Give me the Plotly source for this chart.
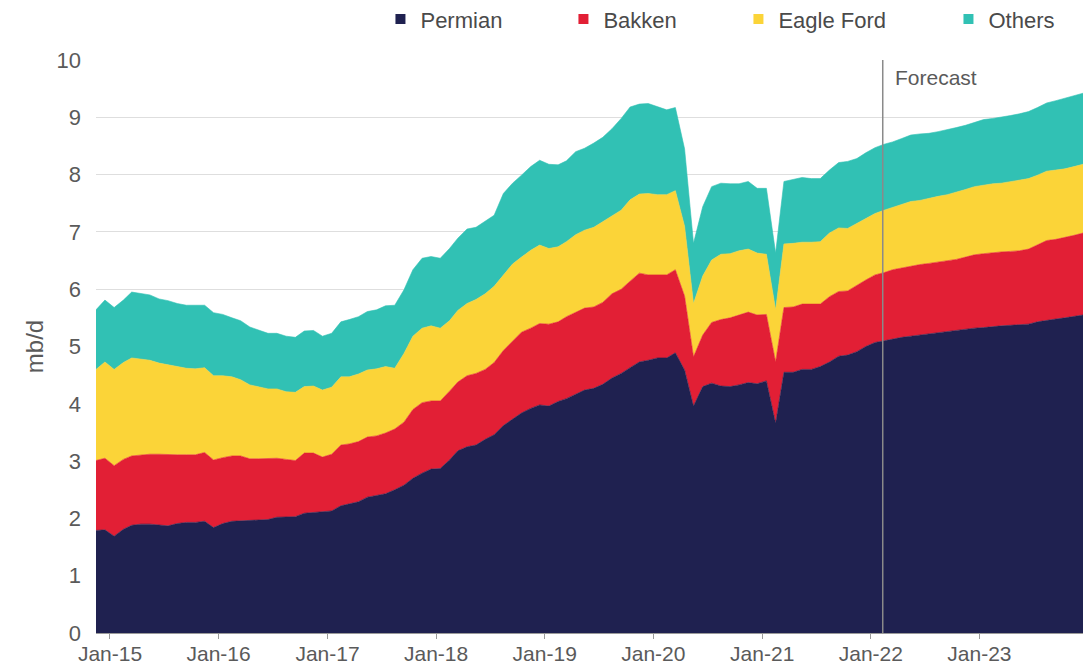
import pandas as pd
import plotly.graph_objects as go

# ---------------- data (mb/d), monthly Nov-2014 .. Dec-2023 ----------------
START_MONTH = "2014-11-01"
N_MONTHS = 110
FORECAST_START = "2022-02-10"

permian = [
    1.79, 1.80, 1.69, 1.81, 1.88, 1.90, 1.90, 1.88, 1.87, 1.91, 1.93, 1.93,
    1.95, 1.84, 1.91, 1.95, 1.96, 1.97, 1.97, 1.98, 2.02, 2.03, 2.03, 2.09,
    2.10, 2.11, 2.13, 2.22, 2.25, 2.29, 2.37, 2.40, 2.43, 2.50, 2.58, 2.70,
    2.79, 2.86, 2.87, 3.02, 3.18, 3.25, 3.28, 3.38, 3.46, 3.62, 3.73, 3.84,
    3.92, 3.98, 3.96, 4.04, 4.09, 4.17, 4.24, 4.27, 4.34, 4.45, 4.53, 4.63,
    4.73, 4.76, 4.80, 4.80, 4.89, 4.59, 3.96, 4.30, 4.36, 4.31, 4.30, 4.33,
    4.37, 4.35, 4.40, 3.66, 4.55, 4.55, 4.60, 4.60, 4.65, 4.73, 4.83, 4.85,
    4.91, 5.00, 5.07, 5.10, 5.13, 5.16, 5.18, 5.20, 5.23, 5.25, 5.27, 5.28,
    5.30, 5.32, 5.33, 5.35, 5.36, 5.37, 5.38, 5.39, 5.43, 5.46, 5.48, 5.50,
    5.53, 5.55,
]
bakken = [
    1.22, 1.25, 1.23, 1.22, 1.21, 1.21, 1.22, 1.24, 1.24, 1.20, 1.18, 1.18,
    1.20, 1.18, 1.15, 1.14, 1.13, 1.07, 1.07, 1.06, 1.03, 1.00, 0.98, 1.05,
    1.04, 0.96, 0.99, 1.06, 1.05, 1.05, 1.05, 1.04, 1.06, 1.06, 1.10, 1.20,
    1.23, 1.19, 1.18, 1.20, 1.20, 1.24, 1.25, 1.22, 1.26, 1.31, 1.37, 1.41,
    1.40, 1.42, 1.43, 1.39, 1.43, 1.43, 1.43, 1.42, 1.43, 1.47, 1.47, 1.51,
    1.55, 1.49, 1.45, 1.45, 1.45, 1.29, 0.86, 0.90, 1.06, 1.16, 1.20, 1.22,
    1.23, 1.20, 1.16, 1.07, 1.13, 1.14, 1.14, 1.14, 1.09, 1.14, 1.13, 1.12,
    1.16, 1.16, 1.18, 1.19, 1.21, 1.21, 1.23, 1.23, 1.22, 1.22, 1.23, 1.24,
    1.26, 1.28, 1.29, 1.29, 1.29, 1.29, 1.29, 1.31, 1.35, 1.39, 1.39, 1.40,
    1.41, 1.43,
]
eagle_ford = [
    1.59, 1.68, 1.68, 1.69, 1.71, 1.67, 1.64, 1.59, 1.57, 1.54, 1.51, 1.50,
    1.48, 1.47, 1.43, 1.38, 1.33, 1.29, 1.25, 1.22, 1.21, 1.18, 1.19, 1.16,
    1.17, 1.17, 1.17, 1.19, 1.17, 1.18, 1.17, 1.17, 1.16, 1.06, 1.20, 1.28,
    1.30, 1.31, 1.27, 1.23, 1.25, 1.26, 1.29, 1.32, 1.33, 1.32, 1.34, 1.31,
    1.36, 1.37, 1.32, 1.31, 1.31, 1.35, 1.36, 1.39, 1.41, 1.37, 1.38, 1.42,
    1.38, 1.42, 1.40, 1.40, 1.38, 1.22, 0.93, 1.03, 1.09, 1.14, 1.12, 1.12,
    1.10, 1.08, 1.05, 0.91, 1.11, 1.11, 1.08, 1.08, 1.09, 1.11, 1.11, 1.09,
    1.08, 1.08, 1.07, 1.09, 1.09, 1.11, 1.12, 1.12, 1.14, 1.15, 1.15, 1.17,
    1.18, 1.19, 1.20, 1.20, 1.20, 1.22, 1.23, 1.23, 1.21, 1.21, 1.21, 1.20,
    1.20, 1.20,
]
others = [
    1.04, 1.08, 1.08, 1.09, 1.15, 1.15, 1.14, 1.12, 1.12, 1.10, 1.10, 1.11,
    1.09, 1.10, 1.07, 1.03, 1.03, 1.01, 1.00, 0.97, 0.97, 0.97, 0.96, 0.97,
    0.97, 0.94, 0.94, 0.96, 1.00, 1.00, 1.02, 1.03, 1.06, 1.10, 1.11, 1.16,
    1.22, 1.21, 1.22, 1.26, 1.26, 1.30, 1.26, 1.26, 1.24, 1.42, 1.41, 1.43,
    1.46, 1.48, 1.47, 1.43, 1.41, 1.45, 1.43, 1.47, 1.47, 1.51, 1.60, 1.62,
    1.57, 1.57, 1.53, 1.48, 1.45, 1.35, 1.05, 1.21, 1.28, 1.24, 1.22, 1.17,
    1.18, 1.13, 1.15, 0.99, 1.09, 1.12, 1.13, 1.11, 1.10, 1.10, 1.14, 1.17,
    1.13, 1.14, 1.15, 1.15, 1.14, 1.15, 1.16, 1.16, 1.13, 1.13, 1.13, 1.13,
    1.12, 1.12, 1.14, 1.14, 1.15, 1.15, 1.16, 1.17, 1.18, 1.19, 1.21, 1.23,
    1.23, 1.24,
]

series_names = ["Permian", "Bakken", "Eagle Ford", "Others"]
series_colors = ["#1f2150", "#e21f35", "#fbd438", "#31c1b4"]

tick_dates = ["2015-01-01", "2016-01-01", "2017-01-01", "2018-01-01", "2019-01-01",
              "2020-01-01", "2021-01-01", "2022-01-01", "2023-01-01"]
tick_labels = ["Jan-15", "Jan-16", "Jan-17", "Jan-18", "Jan-19",
               "Jan-20", "Jan-21", "Jan-22", "Jan-23"]
y_ticks = list(range(0, 11))

# monthly points plotted mid-month
months = pd.date_range(START_MONTH, periods=N_MONTHS, freq="MS") + pd.Timedelta(days=14)

FONT = "Liberation Sans, Arial, Helvetica, sans-serif"
GREY = "#5a5a5a"

fig = go.Figure()
for name, vals, col in zip(series_names, [permian, bakken, eagle_ford, others], series_colors):
    fig.add_trace(go.Scatter(
        x=months, y=vals, name=name, mode="lines",
        stackgroup="prod", line=dict(color=col, width=0.6),
        fillcolor=col, showlegend=False, hoverinfo="x+y+name",
    ))

# legend entries (square markers), each in its own legend for exact placement
legend_x = [0.2882, 0.4736, 0.6509, 0.8637]
for i, (name, col) in enumerate(zip(series_names, series_colors)):
    lg = "legend" if i == 0 else f"legend{i+1}"
    fig.add_trace(go.Scatter(
        x=[None], y=[None], mode="markers", name=name,
        marker=dict(symbol="square", size=10, color=col),
        showlegend=True, legend=lg,
    ))

legend_common = dict(orientation="h", xanchor="left", yanchor="middle", y=1.071,
                     bgcolor="rgba(0,0,0,0)", borderwidth=0,
                     font=dict(family=FONT, size=22, color="#4a4a4a"),
                     itemwidth=30)
layout_legends = {}
for i, lx in enumerate(legend_x):
    key = "legend" if i == 0 else f"legend{i+1}"
    layout_legends[key] = dict(legend_common, x=lx)

fig.update_layout(
    width=1087, height=666,
    margin=dict(l=96, r=4, t=60, b=33, autoexpand=False),
    paper_bgcolor="white", plot_bgcolor="white",
    font=dict(family=FONT, size=22, color=GREY),
    showlegend=True,
    **layout_legends,
)

fig.update_xaxes(
    type="date", automargin=False,
    range=[months[0], months[-1]],
    tickvals=tick_dates, ticktext=tick_labels,
    ticks="outside", ticklen=5, tickwidth=1, tickcolor="#9a9a9a",
    showline=True, linecolor="#9a9a9a", linewidth=1,
    showgrid=False, zeroline=False,
    ticklabelstandoff=-3,
    tickfont=dict(family=FONT, size=21, color=GREY),
)
fig.update_yaxes(
    range=[0, 10], tickvals=y_ticks, automargin=False,
    showgrid=True, gridcolor="#dedede", gridwidth=1,
    zeroline=False, showline=False, ticks="",
    ticklabelstandoff=14,
    tickfont=dict(family=FONT, size=22, color=GREY),
    title=dict(text="mb/d", font=dict(family=FONT, size=24, color=GREY), standoff=6),
)

# forecast divider
fig.add_shape(type="line", xref="x", yref="paper",
              x0=FORECAST_START, x1=FORECAST_START, y0=0, y1=1,
              line=dict(color="#8a8a8a", width=1.5), layer="above")
fig.add_annotation(x=FORECAST_START, y=9.7, xref="x", yref="y",
                   text="Forecast", showarrow=False, xanchor="left", yanchor="middle",
                   xshift=10, font=dict(family=FONT, size=21, color=GREY))

fig.write_html("out.html", config={"displayModeBar": False},
               post_script="document.body.style.margin='0';document.body.style.overflow='hidden';")
